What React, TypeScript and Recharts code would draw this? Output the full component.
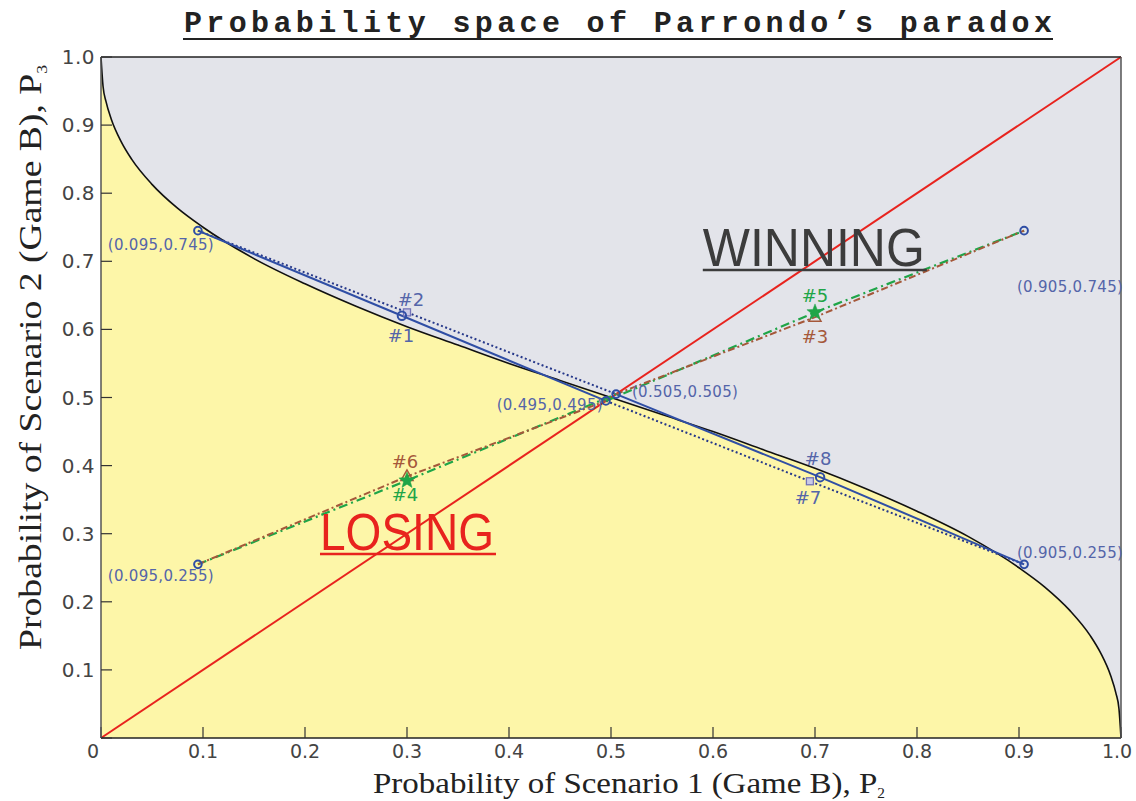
import React from 'react';
import { ComposedChart, Line, Area, Scatter, XAxis, YAxis, CartesianGrid, Label } from 'recharts';

// Boundary between winning and losing regions (P2, P3)
const boundary = [
  { x: 0, y: 1.0 }, { x: 0.002, y: 0.957 }, { x: 0.005, y: 0.934 }, { x: 0.01, y: 0.909 },
  { x: 0.02, y: 0.875 }, { x: 0.03, y: 0.85 }, { x: 0.05, y: 0.813 }, { x: 0.075, y: 0.778 },
  { x: 0.1, y: 0.75 }, { x: 0.15, y: 0.704 }, { x: 0.2, y: 0.667 }, { x: 0.25, y: 0.634 },
  { x: 0.3, y: 0.604 }, { x: 0.35, y: 0.577 }, { x: 0.4, y: 0.55 }, { x: 0.45, y: 0.525 },
  { x: 0.5, y: 0.5 }, { x: 0.55, y: 0.475 }, { x: 0.6, y: 0.45 }, { x: 0.65, y: 0.423 },
  { x: 0.7, y: 0.396 }, { x: 0.75, y: 0.366 }, { x: 0.8, y: 0.333 }, { x: 0.85, y: 0.296 },
  { x: 0.9, y: 0.25 }, { x: 0.925, y: 0.222 }, { x: 0.95, y: 0.187 }, { x: 0.97, y: 0.15 },
  { x: 0.98, y: 0.125 }, { x: 0.99, y: 0.091 }, { x: 0.995, y: 0.066 }, { x: 0.998, y: 0.043 },
  { x: 1.0, y: 0 },
];

const diagonal = [{ x: 0, y: 0 }, { x: 1, y: 1 }];

const blueSolidA = [{ x: 0.095, y: 0.745 }, { x: 0.295, y: 0.62 }, { x: 0.495, y: 0.495 }];
const blueSolidB = [{ x: 0.505, y: 0.505 }, { x: 0.705, y: 0.383 }, { x: 0.905, y: 0.255 }];
const blueDotA = [{ x: 0.095, y: 0.745 }, { x: 0.3, y: 0.625 }, { x: 0.505, y: 0.505 }];
const blueDotB = [{ x: 0.495, y: 0.495 }, { x: 0.695, y: 0.377 }, { x: 0.905, y: 0.255 }];
const greenA = [{ x: 0.095, y: 0.255 }, { x: 0.3, y: 0.378 }, { x: 0.505, y: 0.505 }];
const greenB = [{ x: 0.495, y: 0.495 }, { x: 0.7, y: 0.625 }, { x: 0.905, y: 0.745 }];
const brownA = [{ x: 0.095, y: 0.255 }, { x: 0.3, y: 0.384 }, { x: 0.495, y: 0.495 }];
const brownB = [{ x: 0.505, y: 0.505 }, { x: 0.7, y: 0.618 }, { x: 0.905, y: 0.745 }];

const endpoints = [
  { x: 0.095, y: 0.745, label: '(0.095,0.745)' },
  { x: 0.905, y: 0.745, label: '(0.905,0.745)' },
  { x: 0.095, y: 0.255, label: '(0.095,0.255)' },
  { x: 0.905, y: 0.255, label: '(0.905,0.255)' },
  { x: 0.495, y: 0.495, label: '(0.495,0.495)' },
  { x: 0.505, y: 0.505, label: '(0.505,0.505)' },
];

const circleMarks = [{ x: 0.295, y: 0.62, label: '#1' }, { x: 0.705, y: 0.383, label: '#8' }];
const squareMarks = [{ x: 0.3, y: 0.625, label: '#2' }, { x: 0.695, y: 0.377, label: '#7' }];
const triangleMarks = [{ x: 0.7, y: 0.618, label: '#3' }, { x: 0.3, y: 0.384, label: '#6' }];
const starMarks = [{ x: 0.3, y: 0.378, label: '#4' }, { x: 0.7, y: 0.625, label: '#5' }];

const regionLabels = [
  { x: 0.59, y: 0.693, label: 'WINNING' },
  { x: 0.2147, y: 0.276, label: 'LOSING' },
];

const axisTicks = [0, 0.1, 0.2, 0.3, 0.4, 0.5, 0.6, 0.7, 0.8, 0.9, 1];
const xTickLabels = ['0', '0.1', '0.2', '0.3', '0.4', '0.5', '0.6', '0.7', '0.8', '0.9', '1.0'];
const yTickLabels = ['', '0.1', '0.2', '0.3', '0.4', '0.5', '0.6', '0.7', '0.8', '0.9', '1.0'];

// ---- styling (offsets in px) ----
const endpointOffsets: Record<string, [number, number]> = {
  '(0.095,0.745)': [-37, 19],
  '(0.905,0.745)': [46, 61],
  '(0.095,0.255)': [-37, 17],
  '(0.905,0.255)': [46, -6],
  '(0.495,0.495)': [-61, 9],
  '(0.505,0.505)': [69, 3],
};
const markOffsets: Record<string, [number, number]> = {
  '#1': [-1, 26], '#8': [-2, -12], '#2': [4, -6], '#7': [-2, 23],
  '#3': [0, 26], '#6': [-2, -8], '#4': [-2, 20], '#5': [0, -10],
};
const regionStyle: Record<string, { color: string; width: number; size: number; line: string }> = {
  WINNING: { color: '#3c3c3c', width: 222, size: 53, line: '#3c3c3c' },
  LOSING: { color: '#e8231e', width: 174, size: 51, line: '#e8231e' },
};

const BLUE = '#2f4ea5';
const BLUE_TXT = '#5465a9';
const GREEN = '#1fa548';
const BROWN = '#a5583a';
const RED = '#e8231e';

const EndpointShape = (p: any) => {
  const { cx, cy, payload } = p;
  const [dx, dy] = endpointOffsets[payload.label] || [0, 0];
  const anchor = payload.label === '(0.495,0.495)' ? 'end' : 'middle';
  const ddx = anchor === 'end' ? -3 : dx;
  return (
    <g>
      <circle cx={cx} cy={cy} r={3.8} fill="none" stroke={BLUE} strokeWidth={2} />
      <text
        x={cx + ddx}
        y={cy + dy}
        textAnchor={anchor}
        fontFamily="DejaVu Sans"
        fontSize={15}
        letterSpacing={0.3}
        fill={BLUE_TXT}
      >
        {payload.label}
      </text>
    </g>
  );
};

const markText = (cx: number, cy: number, label: string, color: string) => {
  const [dx, dy] = markOffsets[label] || [0, 0];
  return (
    <text x={cx + dx} y={cy + dy} textAnchor="middle" fontFamily="DejaVu Sans" fontSize={18} fill={color}>
      {label}
    </text>
  );
};

const CircleShape = (p: any) => (
  <g>
    <circle cx={p.cx} cy={p.cy} r={4.2} fill="none" stroke={BLUE} strokeWidth={2} />
    {markText(p.cx, p.cy, p.payload.label, BLUE_TXT)}
  </g>
);
const SquareShape = (p: any) => (
  <g>
    <rect x={p.cx - 3.5} y={p.cy - 3.5} width={7} height={7} fill="#c9c9e6" stroke="#7474b8" strokeWidth={1.3} />
    {markText(p.cx, p.cy, p.payload.label, BLUE_TXT)}
  </g>
);
const TriangleShape = (p: any) => (
  <g>
    <polygon
      points={`${p.cx},${p.cy - 6.5} ${p.cx - 6},${p.cy + 4} ${p.cx + 6},${p.cy + 4}`}
      fill="none"
      stroke={BROWN}
      strokeWidth={1.5}
    />
    {markText(p.cx, p.cy, p.payload.label, BROWN)}
  </g>
);
const starPath = (cx: number, cy: number, R: number, r: number) => {
  let d = '';
  for (let i = 0; i < 10; i++) {
    const a = -Math.PI / 2 + (i * Math.PI) / 5;
    const rad = i % 2 === 0 ? R : r;
    d += (i === 0 ? 'M' : 'L') + (cx + rad * Math.cos(a)).toFixed(2) + ',' + (cy + rad * Math.sin(a)).toFixed(2);
  }
  return d + 'Z';
};
const StarShape = (p: any) => (
  <g>
    <path d={starPath(p.cx, p.cy, 8.5, 3.6)} fill={GREEN} stroke={GREEN} strokeWidth={0.5} />
    {markText(p.cx, p.cy, p.payload.label, GREEN)}
  </g>
);
const RegionShape = (p: any) => {
  const s = regionStyle[p.payload.label];
  return (
    <g>
      <text
        x={p.cx}
        y={p.cy}
        fontFamily="Liberation Sans"
        fontSize={s.size}
        fill={s.color}
        textLength={s.width}
        lengthAdjust="spacingAndGlyphs"
      >
        {p.payload.label}
      </text>
      <line x1={p.cx} x2={p.cx + s.width + 2} y1={p.cy + 4} y2={p.cy + 4} stroke={s.line} strokeWidth={2.5} />
    </g>
  );
};

const TitleContent = (props: any) => {
  const vb = props.viewBox || { x: 101, y: 0, width: 1020, height: 57 };
  const cx = vb.x + vb.width / 2 + 7;
  return (
    <g>
      <text
        x={cx}
        y={vb.y + 32}
        textAnchor="middle"
        fontFamily="Liberation Mono"
        fontWeight="bold"
        fontSize={30}
        fill="#222"
        textLength={868}
        lengthAdjust="spacing"
      >
        Probability space of Parrondo’s paradox
      </text>
      <line x1={cx - 435} x2={cx + 435} y1={vb.y + 39} y2={vb.y + 39} stroke="#222" strokeWidth={2.2} />
    </g>
  );
};

const XTitle = (props: any) => {
  const vb = props.viewBox || { x: 101, y: 738, width: 1020, height: 63 };
  const cx = vb.x + vb.width / 2 + 18;
  return (
    <text
      x={cx}
      y={vb.y + 55}
      textAnchor="middle"
      fontFamily="Liberation Serif"
      fontSize={30}
      fill="#222"
      textLength={512}
      lengthAdjust="spacingAndGlyphs"
    >
      Probability of Scenario 1 (Game B), P
      <tspan fontSize={14} dy={5}>2</tspan>
    </text>
  );
};

const YTitle = (props: any) => {
  const vb = props.viewBox || { x: 0, y: 57, width: 101, height: 681 };
  const x = vb.x + 41;
  const y = vb.y + vb.height / 2 - 40;
  return (
    <text
      x={x}
      y={y}
      transform={`rotate(-90, ${x}, ${y})`}
      textAnchor="middle"
      fontFamily="Liberation Serif"
      fontSize={32}
      fill="#222"
      textLength={585}
      lengthAdjust="spacingAndGlyphs"
    >
      Probability of Scenario 2 (Game B), P
      <tspan fontSize={15} dy={6}>3</tspan>
    </text>
  );
};

const tickIndex = (v: number) => axisTicks.findIndex((t) => Math.abs(t - v) < 1e-9);

const XTick = (p: any) => {
  const v = p.payload.value;
  const i = tickIndex(v);
  const shift = i === 0 ? -8 : i === axisTicks.length - 1 ? -4 : 0;
  return (
    <text
      x={p.x + shift}
      y={p.y + 15}
      textAnchor="middle"
      fontFamily="DejaVu Sans"
      fontSize={19}
      fill="#444"
    >
      {xTickLabels[i]}
    </text>
  );
};

const YTick = (p: any) => {
  const v = p.payload.value;
  const i = tickIndex(v);
  return (
    <text
      x={p.x}
      y={p.y + 7}
      textAnchor="end"
      fontFamily="DejaVu Sans"
      fontSize={20}
      fill="#444"
      letterSpacing={0.5}
    >
      {yTickLabels[i]}
    </text>
  );
};

export default function App() {
  return (
    <div style={{ position: 'absolute', left: 0, top: 0, width: 1136, height: 801, background: '#fff' }}>
      <ComposedChart width={1136} height={801} data={boundary} margin={{ top: 0, right: 0, bottom: 0, left: 0 }}>
        <CartesianGrid fill="#e3e4ea" horizontal={false} vertical={false} stroke="none" />
        <XAxis
          xAxisId={0}
          dataKey="x"
          type="number"
          domain={[0, 1]}
          ticks={axisTicks}
          interval={0}
          height={63}
          tickSize={-11}
          tickMargin={16}
          tick={XTick}
          axisLine={{ stroke: '#222', strokeWidth: 1.5 }}
          tickLine={{ stroke: '#333', strokeWidth: 1.2 }}
        >
          <Label content={XTitle} />
        </XAxis>
        <XAxis
          xAxisId="top"
          orientation="top"
          dataKey="x"
          type="number"
          domain={[0, 1]}
          ticks={axisTicks}
          interval={0}
          height={57}
          tickSize={-11}
          tick={false}
          axisLine={{ stroke: '#222', strokeWidth: 1.5 }}
          tickLine={{ stroke: '#333', strokeWidth: 1.2 }}
        >
          <Label content={TitleContent} />
        </XAxis>
        <YAxis
          yAxisId={0}
          type="number"
          domain={[0, 1]}
          ticks={axisTicks}
          interval={0}
          width={101}
          tickSize={-11}
          tickMargin={17}
          tick={YTick}
          axisLine={{ stroke: '#555', strokeWidth: 1.5 }}
          tickLine={{ stroke: '#333', strokeWidth: 1.2 }}
        >
          <Label content={YTitle} />
        </YAxis>
        <YAxis
          yAxisId="right"
          orientation="right"
          type="number"
          domain={[0, 1]}
          ticks={axisTicks}
          interval={0}
          width={15}
          tickSize={-11}
          tick={false}
          axisLine={{ stroke: '#555', strokeWidth: 1.5 }}
          tickLine={{ stroke: '#333', strokeWidth: 1.2 }}
        />

        <Area
          dataKey="y"
          type="monotone"
          fill="#fdf6a8"
          fillOpacity={1}
          stroke="#111"
          strokeWidth={1.6}
          baseValue={0}
          isAnimationActive={false}
          dot={false}
          activeDot={false}
        />

        <Line data={diagonal} dataKey="y" stroke={RED} strokeWidth={2} dot={false} isAnimationActive={false} />

        <Line data={blueDotA} dataKey="y" stroke="#26388a" strokeWidth={2} strokeDasharray="2 2.5" dot={false} isAnimationActive={false} />
        <Line data={blueDotB} dataKey="y" stroke="#26388a" strokeWidth={2} strokeDasharray="2 2.5" dot={false} isAnimationActive={false} />
        <Line data={blueSolidA} dataKey="y" stroke={BLUE} strokeWidth={2} dot={false} isAnimationActive={false} />
        <Line data={blueSolidB} dataKey="y" stroke={BLUE} strokeWidth={2} dot={false} isAnimationActive={false} />
        <Line data={greenA} dataKey="y" stroke={GREEN} strokeWidth={2.2} strokeDasharray="9 4 2 4" dot={false} isAnimationActive={false} />
        <Line data={greenB} dataKey="y" stroke={GREEN} strokeWidth={2.2} strokeDasharray="9 4 2 4" dot={false} isAnimationActive={false} />
        <Line data={brownA} dataKey="y" stroke={BROWN} strokeWidth={2} strokeDasharray="7 3 2 3" dot={false} isAnimationActive={false} />
        <Line data={brownB} dataKey="y" stroke={BROWN} strokeWidth={2} strokeDasharray="7 3 2 3" dot={false} isAnimationActive={false} />

        <Scatter data={regionLabels} dataKey="y" shape={RegionShape} isAnimationActive={false} />
        <Scatter data={endpoints} dataKey="y" shape={EndpointShape} isAnimationActive={false} />
        <Scatter data={squareMarks} dataKey="y" shape={SquareShape} isAnimationActive={false} />
        <Scatter data={circleMarks} dataKey="y" shape={CircleShape} isAnimationActive={false} />
        <Scatter data={triangleMarks} dataKey="y" shape={TriangleShape} isAnimationActive={false} />
        <Scatter data={starMarks} dataKey="y" shape={StarShape} isAnimationActive={false} />
      </ComposedChart>
    </div>
  );
}
